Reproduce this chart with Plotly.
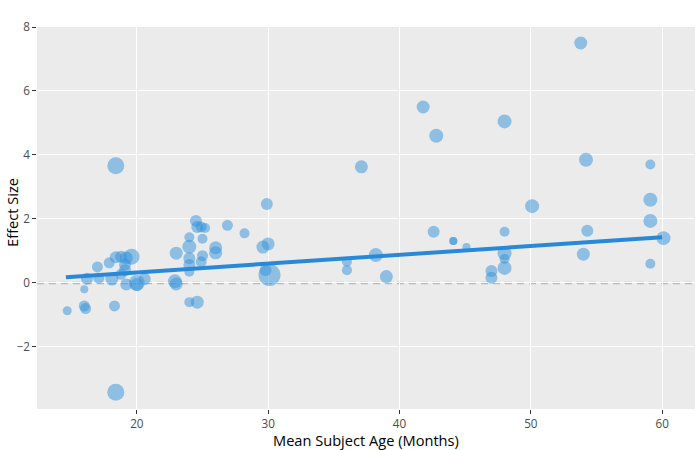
import plotly.graph_objects as go

age = [14.7, 16.0, 16.1, 16.0, 16.2, 17.0, 17.1, 17.9, 18.1, 18.3,
       18.4, 18.4, 18.4, 18.8, 19.2, 19.6, 19.1, 19.1, 18.8, 19.2,
       20.0, 20.0, 20.6, 23.0, 22.9, 23.0, 24.0, 24.0, 24.0, 24.0,
       24.0, 24.0, 24.6, 24.5, 24.6, 24.9, 25.2, 25.0, 25.0, 24.9,
       26.0, 26.0, 26.9, 28.2, 29.6, 30.0, 29.9, 29.8, 30.1, 36.0,
       36.0, 37.1, 38.2, 39.0, 41.8, 42.8, 42.6, 44.1, 44.1, 45.1,
       48.0, 48.0, 48.0, 48.0, 48.0, 47.0, 47.0, 50.1, 53.8, 54.2,
       54.3, 54.0, 59.1, 59.1, 59.1, 60.1, 59.1]
effect = [-0.87, -0.72, -0.80, -0.20, 0.13, 0.50, 0.15, 0.63, 0.12, -0.72,
          3.66, -3.42, 0.80, 0.82, 0.78, 0.82, 0.58, 0.40, 0.27, -0.05,
          0.00, -0.05, 0.12, 0.93, 0.05, -0.03, 1.13, 1.43, 0.77, 0.56,
          0.35, -0.60, -0.60, 1.94, 1.75, 1.75, 1.72, 1.38, 0.85, 0.66,
          1.10, 0.94, 1.80, 1.55, 1.12, 1.22, 2.47, 0.40, 0.25, 0.66,
          0.40, 3.63, 0.87, 0.20, 5.50, 4.60, 1.60, 1.31, 1.31, 1.12,
          5.05, 1.60, 0.93, 0.75, 0.47, 0.37, 0.16, 2.40, 7.50, 3.85,
          1.63, 0.90, 3.70, 2.60, 1.94, 1.40, 0.60]
weight = [9, 11, 11, 8, 12, 11, 11, 11, 13, 11,
          17, 17, 12, 12, 13, 16, 12, 12, 11, 12,
          16, 13, 12, 13, 14, 13, 14, 10, 12, 12,
          10, 10, 13, 12, 12, 11, 10, 10, 11, 11,
          13, 13, 11, 10, 13, 13, 12, 12, 22, 10,
          10, 13, 14, 13, 13, 14, 12, 8, 8, 8,
          14, 10, 14, 10, 14, 12, 12, 14, 13, 14,
          12, 13, 10, 14, 14, 14, 10]

fit_age = [14.6, 60.0]
fit_effect = [0.18, 1.43]

x_ticks = [20, 30, 40, 50, 60]
y_ticks = [-2, 0, 2, 4, 6, 8]
x_title = "Mean Subject Age (Months)"
y_title = "Effect Size"

fig = go.Figure()
fig.add_trace(go.Scatter(
    x=age, y=effect, mode="markers",
    marker=dict(size=weight, sizemode="diameter", sizeref=1,
                color="rgb(52,145,220)", opacity=0.5, line=dict(width=0)),
    showlegend=False, hoverinfo="x+y"))
fig.add_trace(go.Scatter(
    x=fit_age, y=fit_effect, mode="lines",
    line=dict(color="rgb(40,137,216)", width=4),
    showlegend=False))

fig.add_shape(type="line", xref="paper", yref="y", x0=0, x1=1, y0=0, y1=0,
              line=dict(color="#b8b8b8", width=2.5, dash="7px,5px"), layer="between")

title_font = dict(size=14.61, color="rgb(0,0,0)", family="Open Sans")
fig.add_annotation(text=x_title, xref="paper", yref="paper", x=0.5, y=-0.081,
                   xanchor="center", yanchor="middle", showarrow=False,
                   font=title_font)
fig.add_annotation(text=y_title, xref="paper", yref="paper", x=-0.038, y=0.516,
                   xanchor="center", yanchor="middle", showarrow=False, textangle=-90,
                   font=title_font)

tick_font = dict(size=11.69, color="rgb(77,77,77)", family="Open Sans")
fig.update_layout(
    width=700, height=450,
    margin=dict(l=37, r=5, t=27, b=41, autoexpand=False),
    paper_bgcolor="white", plot_bgcolor="rgb(235,235,235)",
    font=dict(family="Open Sans", color="#444", size=11.69),
    xaxis=dict(range=[12.4, 62.5], tickvals=x_ticks, gridcolor="white",
               gridwidth=1.3, zeroline=False, ticks="outside", ticklen=3.65,
               tickcolor="rgb(51,51,51)", tickfont=tick_font,
               showline=False, automargin=False),
    yaxis=dict(range=[-3.94, 8.0], tickvals=y_ticks, gridcolor="white",
               gridwidth=1.3, zeroline=False, ticks="outside", ticklen=3.65,
               tickcolor="rgb(51,51,51)", tickfont=tick_font,
               showline=False, automargin=False),
)

fig.write_html("out.html", config={"displayModeBar": False},
               post_script="document.body.style.margin='0';document.body.style.padding='0';")
